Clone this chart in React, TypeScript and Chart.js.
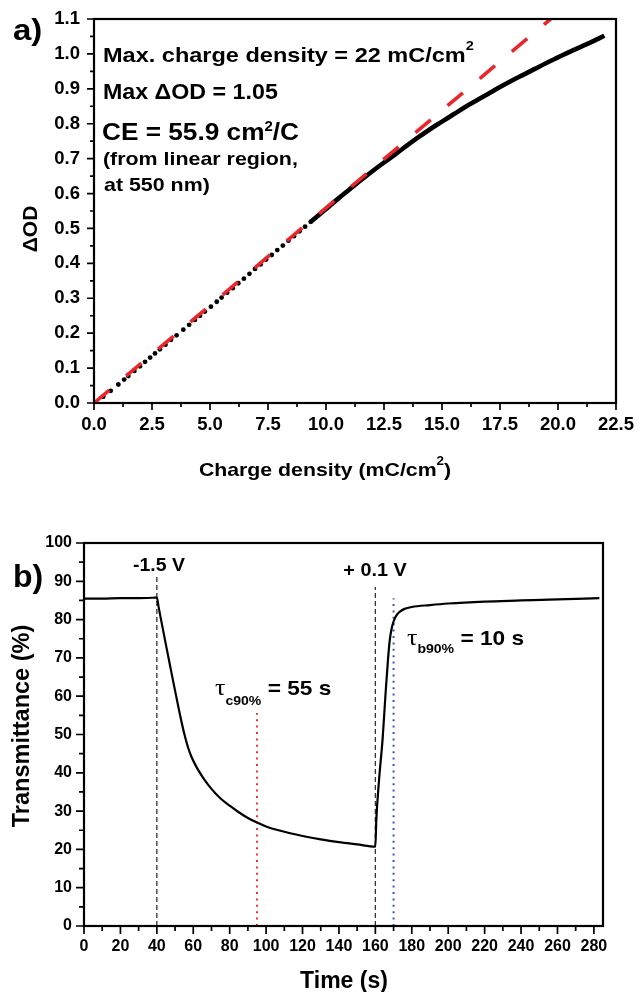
import React, { useEffect, useRef } from "react";
import { Chart, registerables } from "chart.js";

Chart.register(...registerables);

// ---------- Panel a data ----------
const A_X_TICKS = [0, 2.5, 5, 7.5, 10, 12.5, 15, 17.5, 20, 22.5];
const A_Y_TICKS = [0, 0.1, 0.2, 0.3, 0.4, 0.5, 0.6, 0.7, 0.8, 0.9, 1.0, 1.1];

// discrete measured points (low charge region)
const A_DOT_X = [0.4, 0.72, 1.05, 1.3, 1.48, 1.74, 1.98, 2.2, 2.42, 2.63, 2.84, 3.08, 3.32, 3.56, 3.85, 4.1, 4.35, 4.57, 4.78, 5.04, 5.29, 5.5, 5.74, 5.98, 6.22, 6.46, 6.7, 6.94, 7.18, 7.42, 7.66, 7.9, 8.14, 8.38, 8.62, 8.86, 9.1, 9.34];
const A_DOT_Y = [0.018, 0.035, 0.053, 0.067, 0.077, 0.092, 0.105, 0.118, 0.13, 0.142, 0.154, 0.167, 0.181, 0.194, 0.21, 0.224, 0.238, 0.25, 0.262, 0.276, 0.29, 0.302, 0.316, 0.329, 0.343, 0.356, 0.37, 0.384, 0.397, 0.411, 0.424, 0.438, 0.451, 0.465, 0.478, 0.492, 0.505, 0.519];
// dense measured points (merge into a thick line)
const A_CURVE_X = [9.34, 9.5, 10, 10.5, 11, 11.5, 12, 12.5, 13, 13.5, 14, 14.5, 15, 15.5, 16, 16.5, 17, 17.5, 18, 18.5, 19, 19.5, 20, 20.5, 21, 21.5, 22];
const A_CURVE_Y = [0.519, 0.528, 0.556, 0.584, 0.611, 0.638, 0.664, 0.689, 0.713, 0.738, 0.762, 0.785, 0.806, 0.827, 0.848, 0.867, 0.886, 0.905, 0.923, 0.94, 0.957, 0.974, 0.99, 1.006, 1.021, 1.036, 1.052];
// linear fit (CE = 55.9 cm2/C)
const A_FIT_X = [0, 19.68];
const A_FIT_Y = [0, 1.1];

// ---------- Panel b data ----------
const B_X_TICKS = [0, 20, 40, 60, 80, 100, 120, 140, 160, 180, 200, 220, 240, 260, 280];
const B_Y_TICKS = [0, 10, 20, 30, 40, 50, 60, 70, 80, 90, 100];
const B_TIME = [0, 10, 20, 30, 38, 40, 41, 43, 45, 47, 49, 51, 53, 55, 57, 59, 61, 63, 66, 70, 75, 80, 85, 90, 95, 100, 110, 120, 130, 140, 150, 160, 160.5, 162, 164, 165.5, 167, 168, 169, 170, 171, 172, 173.5, 176, 180, 190, 200, 220, 240, 260, 283];
const B_TRANS = [85.5, 85.5, 85.6, 85.6, 85.7, 85.8, 83.2, 78.3, 73.4, 68.6, 63.8, 59.1, 54.5, 50.3, 46.8, 44.2, 42.2, 40.5, 38.3, 35.8, 33.3, 31.4, 29.7, 28.2, 27.0, 26.0, 24.6, 23.5, 22.6, 21.9, 21.3, 20.7, 27.5, 38, 49, 60, 70, 75, 77.8, 79.5, 80.6, 81.4, 82.1, 82.8, 83.3, 83.8, 84.2, 84.7, 85.0, 85.3, 85.6];
// vertical markers
const B_SWITCH_X = [40, 160];
const B_SWITCH_TOP = [91.6, 88.5];
const B_TC_X = 95;
const B_TC_TOP = 55.6;
const B_TB_X = 170;
const B_TB_TOP = 85.6;

// ---------- helpers ----------
const SANS = "'Liberation Sans', Arial, sans-serif";
const SERIF = "'Liberation Serif', 'Times New Roman', serif";

type Seg = { t: string; size: number; dy?: number; serif?: boolean; normal?: boolean };
type TextSpec = { x: number; y: number; segs: Seg[]; align?: "left" | "center"; sx?: number; rot?: boolean };

const zip = (xs: number[], ys: number[]) => xs.map((x, i) => ({ x, y: ys[i] }));
const mids = (t: number[]) => t.slice(1).map((v, i) => (v + t[i]) / 2);

function drawRich(ctx: CanvasRenderingContext2D, spec: TextSpec) {
  ctx.save();
  ctx.translate(spec.x, spec.y);
  if (spec.rot) ctx.rotate(-Math.PI / 2);
  ctx.scale(spec.sx ?? 1, 1);
  ctx.fillStyle = "#000";
  ctx.textBaseline = "alphabetic";
  ctx.textAlign = "left";
  const fontOf = (s: Seg) => `${s.normal ? "normal" : "bold"} ${s.size}px ${s.serif ? SERIF : SANS}`;
  const widths = spec.segs.map((s) => {
    ctx.font = fontOf(s);
    return ctx.measureText(s.t).width;
  });
  const total = widths.reduce((a, b) => a + b, 0);
  let cx = spec.align === "center" ? -total / 2 : 0;
  spec.segs.forEach((s, i) => {
    ctx.font = fontOf(s);
    ctx.fillText(s.t, cx, s.dy ?? 0);
    cx += widths[i];
  });
  ctx.restore();
}

type FrameOpts = {
  xMajor: number[];
  xMinor: number[];
  yMajor: number[];
  yMinor: number[];
  majorLen: number;
  minorLen: number;
  tickWidth: number;
  axisWidth: number;
  texts: TextSpec[];
};

function makeFrame(o: FrameOpts) {
  return {
    id: "frame",
    afterDraw(chart: any) {
      const { ctx, chartArea: ca } = chart;
      const xs = chart.scales.x;
      const ys = chart.scales.y;
      ctx.save();
      ctx.strokeStyle = "#000";
      ctx.lineWidth = o.tickWidth;
      ctx.beginPath();
      const xt = (v: number, len: number) => {
        const p = xs.getPixelForValue(v);
        ctx.moveTo(p, ca.bottom);
        ctx.lineTo(p, ca.bottom + len);
      };
      const yt = (v: number, len: number) => {
        const p = ys.getPixelForValue(v);
        ctx.moveTo(ca.left, p);
        ctx.lineTo(ca.left - len, p);
      };
      o.xMajor.forEach((v) => xt(v, o.majorLen));
      o.xMinor.forEach((v) => xt(v, o.minorLen));
      o.yMajor.forEach((v) => yt(v, o.majorLen));
      o.yMinor.forEach((v) => yt(v, o.minorLen));
      ctx.stroke();
      ctx.lineWidth = o.axisWidth;
      ctx.strokeRect(ca.left, ca.top, ca.right - ca.left, ca.bottom - ca.top);
      ctx.restore();
      o.texts.forEach((t) => drawRich(ctx, t));
    },
  };
}

function axis(
  min: number,
  max: number,
  ticks: number[],
  fit: (s: any) => void,
  fontSize: number,
  pad: number,
  fmt: (v: number) => string
) {
  return {
    type: "linear" as const,
    min,
    max,
    afterBuildTicks: (s: any) => {
      s.ticks = ticks.map((v) => ({ value: v }));
    },
    afterFit: fit,
    grid: { display: false, drawTicks: true, tickLength: 8 },
    border: { display: false },
    ticks: {
      autoSkip: false,
      maxRotation: 0,
      padding: pad,
      color: "#000",
      font: { family: SANS, size: fontSize, weight: "bold" as const },
      callback: (v: any) => fmt(Number(v)),
    },
  };
}

// ---------- texts ----------
const A_TEXTS: TextSpec[] = [
  { x: 13, y: 40, sx: 1.1, segs: [{ t: "a)", size: 30 }] },
  { x: 103, y: 62, sx: 1.12, segs: [{ t: "Max. charge density = 22 mC/cm", size: 21 }, { t: "2", size: 13, dy: -12 }] },
  { x: 103, y: 98.5, sx: 1.08, segs: [{ t: "Max \u0394OD = 1.05", size: 21.5 }] },
  { x: 102, y: 139.5, sx: 1.07, segs: [{ t: "CE = 55.9 cm", size: 24.5 }, { t: "2", size: 14, dy: -9 }, { t: "/C", size: 24.5 }] },
  { x: 103, y: 165, sx: 1.15, segs: [{ t: "(from linear region,", size: 18.6 }] },
  { x: 104, y: 191, sx: 1.15, segs: [{ t: "at 550 nm)", size: 18.6 }] },
  { x: 325, y: 476, sx: 1.12, align: "center", segs: [{ t: "Charge density (mC/cm", size: 19 }, { t: "2", size: 12, dy: -11 }, { t: ")", size: 19 }] },
  { x: 37, y: 229, rot: true, align: "center", segs: [{ t: "\u0394OD", size: 21 }] },
];

const B_TEXTS: TextSpec[] = [
  { x: 13, y: 97, segs: [{ t: "b)", size: 32 }] },
  { x: 28.5, y: 236, rot: true, align: "center", segs: [{ t: "Transmittance (%)", size: 23.5 }] },
  { x: 344, y: 498, align: "center", segs: [{ t: "Time (s)", size: 23 }] },
  { x: 159, y: 81, align: "center", sx: 1.05, segs: [{ t: "-1.5 V", size: 18.5 }] },
  { x: 375, y: 86, align: "center", sx: 1.1, segs: [{ t: "+ 0.1 V", size: 18 }] },
  { x: 215, y: 205, sx: 1.08, segs: [{ t: "\u03c4", size: 24, serif: true, normal: true }, { t: "c90%", size: 13, dy: 10 }, { t: " = 55 s", size: 21 }] },
  { x: 407, y: 155, sx: 1.08, segs: [{ t: "\u03c4", size: 24, serif: true, normal: true }, { t: "b90%", size: 13, dy: 8 }, { t: " = 10 s", size: 21 }] },
];

export default function App() {
  const refA = useRef<HTMLCanvasElement>(null);
  const refB = useRef<HTMLCanvasElement>(null);

  useEffect(() => {
    const chartA = new Chart(refA.current as HTMLCanvasElement, {
      type: "scatter",
      data: {
        datasets: [
          {
            data: zip(A_FIT_X, A_FIT_Y),
            showLine: true,
            borderColor: "#e8262b",
            borderWidth: 3.6,
            borderDash: [20, 22],
            pointRadius: 0,
          },
          {
            data: zip(A_CURVE_X, A_CURVE_Y),
            showLine: true,
            borderColor: "#000",
            borderWidth: 4.6,
            cubicInterpolationMode: "monotone",
            pointRadius: 0,
          },
          {
            data: zip(A_DOT_X, A_DOT_Y),
            showLine: false,
            pointRadius: 2.4,
            pointBorderWidth: 0,
            pointBackgroundColor: "#000",
          },
        ],
      } as any,
      options: {
        responsive: false,
        animation: false,
        events: [],
        layout: { padding: { top: 19, right: 24, left: 0, bottom: 0 } },
        plugins: { legend: { display: false }, tooltip: { enabled: false } },
        scales: {
          x: axis(0, 22.5, A_X_TICKS, (s: any) => { s.height = 87; }, 18.5, 3, (v) => v.toFixed(1)),
          y: axis(0, 1.1, A_Y_TICKS, (s: any) => { s.width = 94; }, 18.5, 6, (v) => v.toFixed(1)),
        },
      } as any,
      plugins: [
        makeFrame({
          xMajor: A_X_TICKS,
          xMinor: mids(A_X_TICKS),
          yMajor: A_Y_TICKS,
          yMinor: mids(A_Y_TICKS),
          majorLen: 7,
          minorLen: 4,
          tickWidth: 1.7,
          axisWidth: 2.2,
          texts: A_TEXTS,
        }),
      ],
    });

    const chartB = new Chart(refB.current as HTMLCanvasElement, {
      type: "scatter",
      data: {
        datasets: [
          {
            data: zip(B_TIME, B_TRANS),
            showLine: true,
            borderColor: "#000",
            borderWidth: 2.2,
            cubicInterpolationMode: "monotone",
            pointRadius: 0,
          },
          ...B_SWITCH_X.map((x, i) => ({
            data: [{ x, y: 0 }, { x, y: B_SWITCH_TOP[i] }],
            showLine: true,
            borderColor: "#333",
            borderWidth: 1.3,
            borderDash: [5, 3],
            pointRadius: 0,
          })),
          {
            data: [{ x: B_TC_X, y: 0 }, { x: B_TC_X, y: B_TC_TOP }],
            showLine: true,
            borderColor: "#e53935",
            borderWidth: 2,
            borderDash: [2, 4.4],
            pointRadius: 0,
          },
          {
            data: [{ x: B_TB_X, y: 0 }, { x: B_TB_X, y: B_TB_TOP }],
            showLine: true,
            borderColor: "#3f51c8",
            borderWidth: 2,
            borderDash: [2, 4.4],
            pointRadius: 0,
          },
        ],
      } as any,
      options: {
        responsive: false,
        animation: false,
        events: [],
        layout: { padding: { top: 53, right: 37, left: 0, bottom: 0 } },
        plugins: { legend: { display: false }, tooltip: { enabled: false } },
        scales: {
          x: axis(0, 285, B_X_TICKS, (s: any) => { s.height = 66; }, 16, 3, (v) => String(v)),
          y: axis(0, 100, B_Y_TICKS, (s: any) => { s.width = 84; }, 16, 4, (v) => String(v)),
        },
      } as any,
      plugins: [
        makeFrame({
          xMajor: B_X_TICKS,
          xMinor: mids(B_X_TICKS),
          yMajor: B_Y_TICKS,
          yMinor: mids(B_Y_TICKS),
          majorLen: 8,
          minorLen: 5,
          tickWidth: 1.7,
          axisWidth: 2.2,
          texts: B_TEXTS,
        }),
      ],
    });

    return () => {
      chartA.destroy();
      chartB.destroy();
    };
  }, []);

  return (
    <div style={{ position: "absolute", left: 0, top: 0, width: 640, height: 992, background: "#fff" }}>
      <canvas ref={refA} width={640} height={490} style={{ position: "absolute", left: 0, top: 0, display: "block" }} />
      <canvas ref={refB} width={640} height={502} style={{ position: "absolute", left: 0, top: 490, display: "block" }} />
    </div>
  );
}
